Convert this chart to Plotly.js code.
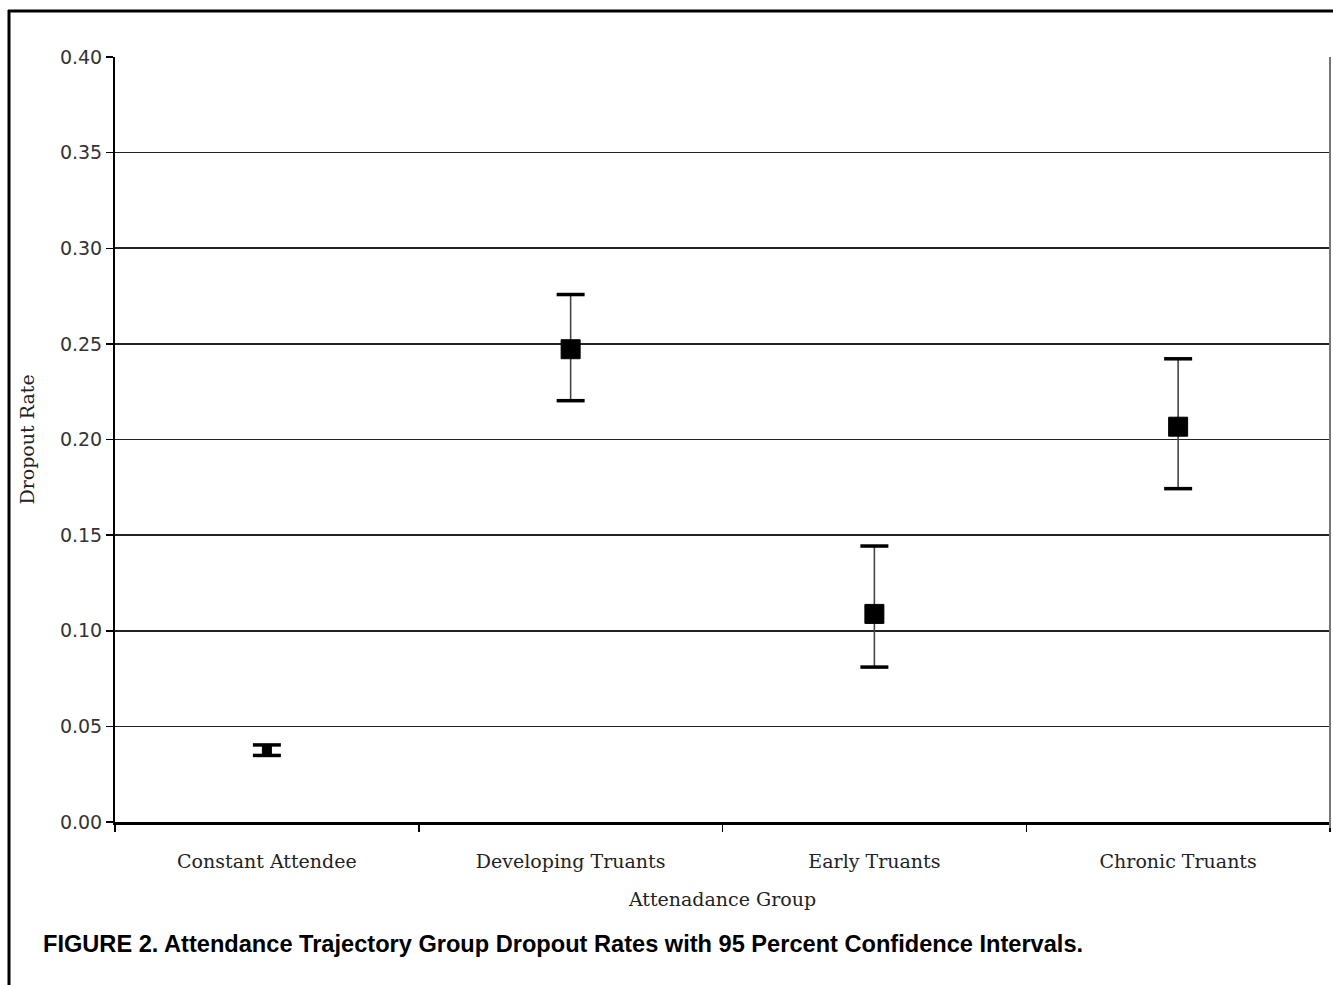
<!DOCTYPE html>
<html>
<head>
<meta charset="utf-8">
<script src="https://cdn.plot.ly/plotly-3.0.1.min.js"></script>
<style>html,body{margin:0;padding:0;background:#fff;}#chart{width:1333px;height:985px;}</style>
</head>
<body>
<div id="chart"></div>
<script>
const groups = ["Constant Attendee", "Developing Truants", "Early Truants", "Chronic Truants"];
const dropoutRate = [0.0376, 0.2472, 0.1088, 0.2067];
const ciUpper = [0.0403, 0.2758, 0.1443, 0.2422];
const ciLower = [0.0348, 0.2203, 0.0810, 0.1743];

const markerSizes = [9, 19, 19, 19];

const errPlus = dropoutRate.map((v, i) => ciUpper[i] - v);
const errMinus = dropoutRate.map((v, i) => v - ciLower[i]);

const traces = [
  {
    type: "scatter", mode: "markers", x: groups, y: dropoutRate,
    marker: {symbol: "square", size: markerSizes, color: "#000", opacity: 1, line: {color: "#000", width: 1}},
    error_y: {type: "data", symmetric: false, array: errPlus, arrayminus: errMinus,
      color: "#444", thickness: 1.6, width: 0, visible: true},
    showlegend: false, hoverinfo: "x+y"
  },
  {
    type: "scatter", mode: "markers", x: groups.concat(groups), y: ciUpper.concat(ciLower),
    marker: {symbol: "line-ew", size: 20, opacity: 1, line: {color: "#000", width: 3.5}},
    showlegend: false, hoverinfo: "skip"
  }
];

const L = 115, R = 1330, T = 57, B = 822;
const px = v => (v - L) / (R - L);
const py = v => (B - v) / (B - T);

const layout = {
  width: 1333, height: 985,
  margin: {l: L, r: 1333 - R, t: T, b: 985 - B},
  paper_bgcolor: "#fff", plot_bgcolor: "#fff",
  showlegend: false,
  xaxis: {
    type: "category", range: [-0.5, 3.5], tickson: "boundaries",
    ticks: "outside", ticklen: 7, tickwidth: 1.5, tickcolor: "#000",
    ticklabelstandoff: 20,
    showline: true, linecolor: "#000", linewidth: 3,
    showgrid: false, zeroline: false,
    tickfont: {family: "DejaVu Serif", size: 19, color: "#222"},
    title: {text: "Attenadance Group", font: {family: "DejaVu Serif", size: 19, color: "#222"}, standoff: 22}
  },
  yaxis: {
    range: [0, 0.4], dtick: 0.05, tick0: 0, tickformat: ".2f",
    ticks: "outside", ticklen: 7, tickwidth: 1.5, tickcolor: "#000",
    showline: true, linecolor: "#000", linewidth: 2,
    showgrid: true, gridcolor: "#222", gridwidth: 1.6, zeroline: false,
    tickfont: {family: "DejaVu Sans", size: 19, color: "#333"},
    title: {text: "Dropout Rate", font: {family: "DejaVu Serif", size: 19, color: "#222"}, standoff: 20}
  },
  shapes: [
    {type: "line", xref: "paper", yref: "paper", x0: px(9), x1: px(9), y0: py(1000), y1: py(10), line: {color: "#000", width: 3}},
    {type: "line", xref: "paper", yref: "paper", x0: px(8), x1: px(1345), y0: py(11), y1: py(11), line: {color: "#000", width: 3}},
    {type: "line", xref: "paper", yref: "paper", x0: 1, x1: 1, y0: py(828), y1: 1, line: {color: "#777", width: 2}}
  ],
  annotations: [
    {xref: "paper", yref: "paper", x: px(41), y: py(944), xanchor: "left", yanchor: "middle", showarrow: false,
      text: "<b>FIGURE 2. Attendance Trajectory Group Dropout Rates with 95 Percent Confidence Intervals.</b>",
      font: {family: "Liberation Sans", size: 23.6, color: "#000"}}
  ]
};

Plotly.newPlot("chart", traces, layout, {staticPlot: true});
</script>
</body>
</html>
